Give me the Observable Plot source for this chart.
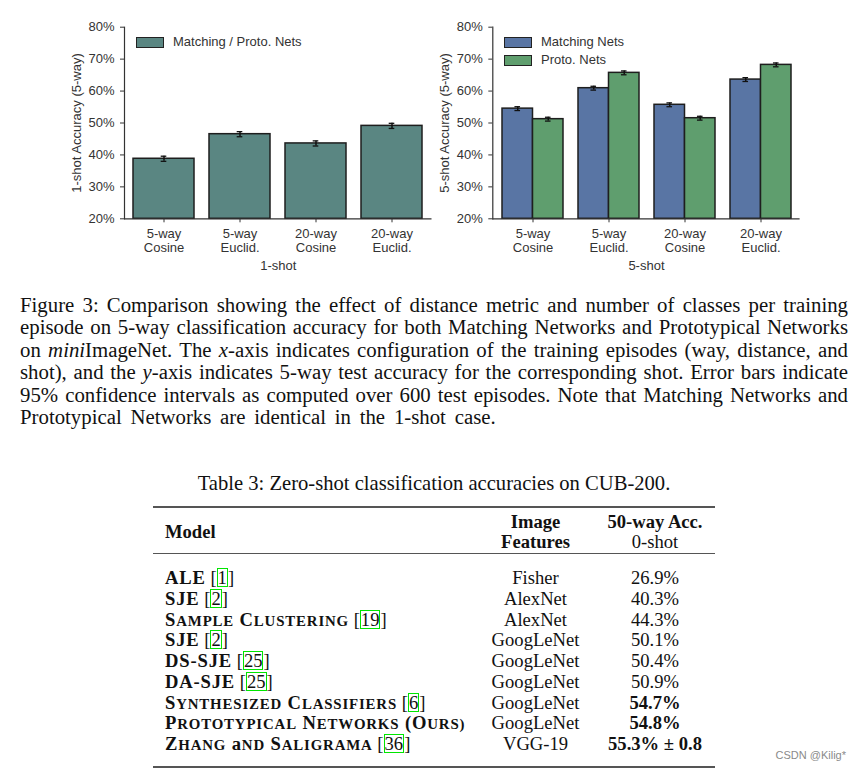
<!DOCTYPE html>
<html>
<head>
<meta charset="utf-8">
<script src="https://cdn.jsdelivr.net/npm/d3@7"></script>
<script src="https://cdn.jsdelivr.net/npm/@observablehq/plot@0.6"></script>
<style>
  html, body { margin: 0; padding: 0; background: #fff; }
  #page { position: relative; width: 868px; height: 774px; background: #fff; overflow: hidden; }
  .abs { position: absolute; }
  .legend { font-family: "Liberation Sans", Arial, sans-serif; font-size: 13px; color: #333; }
  .sw { position: absolute; width: 26px; height: 9px; border: 1px solid #222; }
  .cap { position: absolute; left: 20px; width: 828px; font-family: "Liberation Serif", "Times New Roman", serif; font-size: 20.8px; line-height: 22.4px; color: #111; }
  .cap div { white-space: nowrap; text-align: justify; text-align-last: justify; }
  .cap div.last { text-align-last: left; word-spacing: 3.6px; }
  .tb { font-family: "Liberation Serif", "Times New Roman", serif; font-size: 18.6px; color: #111; }
  .rule { position: absolute; left: 153px; width: 562px; background: #555; }
  .ref { border: 1px solid #00e600; padding: 0; display: inline-block; line-height: 17px; }
  .mn { letter-spacing: 0.045em; }
  .sc { font-size: 0.8em; }
</style>
</head>
<body>
<div id="page"></div>
<script>
// ---------- chart data ----------
const categories = ["5-way Cosine", "5-way Euclid.", "20-way Cosine", "20-way Euclid."];
const tickLabels = ["5-way\nCosine", "5-way\nEuclid.", "20-way\nCosine", "20-way\nEuclid."];
const oneShotAcc = [38.8, 46.5, 43.6, 49.1];
const oneShotCI = [0.8, 0.8, 0.8, 0.8];
const matchingAcc5 = [54.5, 60.9, 55.7, 63.6];
const protoAcc5 = [51.2, 65.7, 51.5, 68.2];
const matchingCI5 = [0.6, 0.6, 0.6, 0.6];
const protoCI5 = [0.6, 0.6, 0.6, 0.6];
const yTicks = [20, 30, 40, 50, 60, 70, 80];
const seriesNames1 = ["Matching / Proto. Nets"];
const seriesNames5 = ["Matching Nets", "Proto. Nets"];
const colors1 = ["#5a8682"];
const colors5 = ["#5975a4", "#5f9e6e"];
const xTitles = ["1-shot", "5-shot"];
const yTitles = ["1-shot Accuracy (5-way)", "5-shot Accuracy (5-way)"];

// ---------- table data ----------
const tableTitle = "Table 3: Zero-shot classification accuracies on CUB-200.";
const modelNames = ["ALE", "SJE", "Sample Clustering", "SJE", "DS-SJE", "DA-SJE", "Synthesized Classifiers", "Prototypical Networks (Ours)", "Zhang and Saligrama"];
const modelSmallCaps = [false, false, true, false, false, false, true, true, true];
const modelRefs = ["1", "2", "19", "2", "25", "25", "6", null, "36"];
const imageFeatures = ["Fisher", "AlexNet", "AlexNet", "GoogLeNet", "GoogLeNet", "GoogLeNet", "GoogLeNet", "GoogLeNet", "VGG-19"];
const accuracies = ["26.9%", "40.3%", "44.3%", "50.1%", "50.4%", "50.9%", "54.7%", "54.8%", "55.3% ± 0.8"];
const accBold = [false, false, false, false, false, false, true, true, true];

const captionLines = [
  "Figure 3: Comparison showing the effect of distance metric and number of classes per training",
  "episode on 5-way classification accuracy for both Matching Networks and Prototypical Networks",
  "on <i>mini</i>ImageNet. The <i>x</i>-axis indicates configuration of the training episodes (way, distance, and",
  "shot), and the <i>y</i>-axis indicates 5-way test accuracy for the corresponding shot. Error bars indicate",
  "95% confidence intervals as computed over 600 test episodes. Note that Matching Networks and",
  "Prototypical Networks are identical in the 1-shot case."
];

const page = document.getElementById("page");
const ink = "#333";
const sansFont = "'Liberation Sans', Arial, sans-serif";

function baseOptions(width, marginLeft, marginRight) {
  return {
    width, height: 280, marginLeft, marginRight, marginTop: 26.7, marginBottom: 61.7,
    x: {domain: categories, paddingInner: 0.2, paddingOuter: 0.1},
    y: {domain: [yTicks[0], yTicks[yTicks.length - 1]]},
    style: {fontFamily: sansFont, fontSize: "13px", color: ink, background: "transparent", overflow: "visible"}
  };
}

function axesMarks(xTitle, yTitle) {
  return [
    Plot.axisY({ticks: yTicks, tickFormat: d => d + "%", tickSize: 4, tickPadding: 6, label: null, fontSize: 13}),
    Plot.axisX({tickFormat: d => tickLabels[categories.indexOf(d)], tickSize: 4, tickPadding: 5, label: null, fontSize: 13, lineHeight: 1.08}),
    Plot.frame({anchor: "left", stroke: ink, strokeWidth: 1.2}),
    Plot.ruleY([yTicks[0]], {stroke: ink, strokeWidth: 1.2}),
    Plot.text([xTitle], {frameAnchor: "bottom", dy: 51, fontSize: 13, fill: ink}),
    Plot.text([yTitle], {frameAnchor: "left", textAnchor: "middle", rotate: -90, dx: -48, fontSize: 13, fill: ink})
  ];
}

// ---------- left chart (1-shot) ----------
{
  const opts = baseOptions(440, 124, 8.5);
  const bw = Plot.plot({...opts, marks: [Plot.barY(categories, {x: d => d, y: () => 50})]}).scale("x").bandwidth;
  const data = categories.map((c, i) => ({cat: c, v: oneShotAcc[i], e: oneShotCI[i]}));
  const capInset = bw / 2 - 2.8;
  const chart = Plot.plot({
    ...opts,
    marks: [
      Plot.barY(data, {x: "cat", y1: yTicks[0], y2: "v", fill: colors1[0], stroke: "#1e1e1e", strokeWidth: 1.5}),
      Plot.ruleX(data, {x: "cat", y1: d => d.v - d.e, y2: d => d.v + d.e, stroke: "#111", strokeWidth: 1.5}),
      Plot.tickY(data, {x: "cat", y: d => d.v - d.e, insetLeft: capInset, insetRight: capInset, stroke: "#111", strokeWidth: 1.3}),
      Plot.tickY(data, {x: "cat", y: d => d.v + d.e, insetLeft: capInset, insetRight: capInset, stroke: "#111", strokeWidth: 1.3}),
      ...axesMarks(xTitles[0], yTitles[0])
    ]
  });
  const holder = document.createElement("div");
  holder.className = "abs"; holder.style.left = "0px"; holder.style.top = "0px";
  holder.appendChild(chart);
  page.appendChild(holder);
}

// ---------- right chart (5-shot) ----------
{
  const opts = baseOptions(428, 52.3, 68.4);
  const bw = Plot.plot({...opts, marks: [Plot.barY(categories, {x: d => d, y: () => 50})]}).scale("x").bandwidth;
  const series = [
    {acc: matchingAcc5, ci: matchingCI5, color: colors5[0], side: -1},
    {acc: protoAcc5, ci: protoCI5, color: colors5[1], side: 1}
  ];
  const marks = [];
  for (const s of series) {
    const data = categories.map((c, i) => ({cat: c, v: s.acc[i], e: s.ci[i]}));
    const left = s.side < 0;
    marks.push(Plot.barY(data, {x: "cat", y1: yTicks[0], y2: "v", fill: s.color, stroke: "#1e1e1e", strokeWidth: 1.5,
      insetLeft: left ? 0 : bw / 2, insetRight: left ? bw / 2 : 0}));
    marks.push(Plot.ruleX(data, {x: "cat", y1: d => d.v - d.e, y2: d => d.v + d.e, dx: s.side * bw / 4, stroke: "#111", strokeWidth: 1.5}));
    const inL = left ? bw / 4 - 2.8 : 3 * bw / 4 - 2.8;
    const inR = left ? 3 * bw / 4 - 2.8 : bw / 4 - 2.8;
    marks.push(Plot.tickY(data, {x: "cat", y: d => d.v - d.e, insetLeft: inL, insetRight: inR, stroke: "#111", strokeWidth: 1.3}));
    marks.push(Plot.tickY(data, {x: "cat", y: d => d.v + d.e, insetLeft: inL, insetRight: inR, stroke: "#111", strokeWidth: 1.3}));
  }
  const chart = Plot.plot({...opts, marks: [...marks, ...axesMarks(xTitles[1], yTitles[1])]});
  const holder = document.createElement("div");
  holder.className = "abs"; holder.style.left = "440px"; holder.style.top = "0px";
  holder.appendChild(chart);
  page.appendChild(holder);
}

// ---------- legends ----------
function addLegend(left, top, names, cols) {
  names.forEach((n, i) => {
    const sw = document.createElement("div");
    sw.className = "sw"; sw.style.left = left + "px"; sw.style.top = (top + i * 18.3) + "px"; sw.style.background = cols[i];
    page.appendChild(sw);
    const t = document.createElement("div");
    t.className = "abs legend"; t.style.left = (left + 37) + "px"; t.style.top = (top + i * 18.3 - 3) + "px";
    t.textContent = n;
    page.appendChild(t);
  });
}
addLegend(136, 37, seriesNames1, colors1);
addLegend(504, 37, seriesNames5, colors5);

// ---------- caption ----------
{
  const cap = document.createElement("div");
  cap.className = "cap"; cap.style.top = "294px";
  captionLines.forEach((l, i) => {
    const d = document.createElement("div");
    d.innerHTML = l;
    if (i === captionLines.length - 1) d.className = "last";
    cap.appendChild(d);
  });
  page.appendChild(cap);
}

// ---------- table ----------
function addText(html, left, top, width, align, extra) {
  const d = document.createElement("div");
  d.className = "abs tb";
  d.style.left = left + "px"; d.style.top = top + "px";
  if (width != null) d.style.width = width + "px";
  d.style.textAlign = align;
  d.style.lineHeight = "20px";
  d.style.whiteSpace = "nowrap";
  if (extra) Object.assign(d.style, extra);
  d.innerHTML = html;
  page.appendChild(d);
}
function addRule(top, h) {
  const r = document.createElement("div");
  r.className = "rule"; r.style.top = Math.round(top - h / 2) + "px"; r.style.height = h + "px";
  page.appendChild(r);
}
function smallCaps(text) {
  // first letter of each word at full size, the rest as reduced capitals
  return text.split(" ").map(w => {
    const m = w.match(/^([^A-Za-z]*)([A-Za-z])(.*)$/);
    if (!m) return w;
    return m[1] + m[2] + (m[3] ? `<span class="sc">${m[3].toUpperCase()}</span>` : "");
  }).join(" ");
}
addText(tableTitle, 0, 472.7, 868, "center", {fontSize: "20.6px"});
addRule(506.7, 2);
addRule(553.3, 1);
addRule(766.7, 2);
const col2 = {left: 476, width: 119};
const col3 = {left: 595, width: 120};
addText("<b>Model</b>", 165, 521.7, null, "left");
addText("<b>Image</b>", col2.left, 511.7, col2.width, "center");
addText("<b>Features</b>", col2.left, 531.7, col2.width, "center");
addText("<b>50-way Acc.</b>", col3.left, 511.7, col3.width, "center");
addText("0-shot", col3.left, 531.7, col3.width, "center");
modelNames.forEach((n, i) => {
  const top = Math.round(578.3 - 10 + 20.7 * i);
  const nameHtml = `<b class="mn">${modelSmallCaps[i] ? smallCaps(n) : n}</b>`;
  const refHtml = modelRefs[i] ? ` [<span class="ref">${modelRefs[i]}</span>]` : "";
  addText(nameHtml + refHtml, 165, top, null, "left");
  addText(imageFeatures[i], col2.left, top, col2.width, "center");
  addText(accBold[i] ? `<b>${accuracies[i]}</b>` : accuracies[i], col3.left, top, col3.width, "center");
});

// watermark
{
  const w = document.createElement("div");
  w.className = "abs";
  w.style.right = "22px"; w.style.top = "749px";
  w.style.font = "11px 'Liberation Sans', Arial, sans-serif"; w.style.color = "#8a8a8a";
  w.textContent = "CSDN @Kilig*";
  page.appendChild(w);
}
</script>
</body>
</html>
